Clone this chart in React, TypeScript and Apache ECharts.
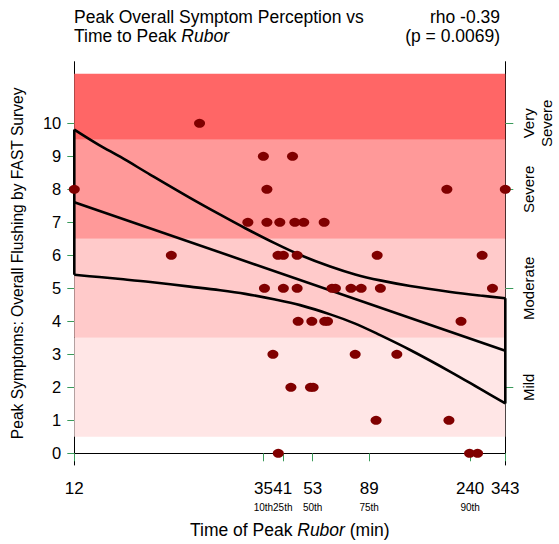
import React, { useEffect, useRef } from "react";
import * as echarts from "echarts";

// ---- data ----
const peakMinutes = [
  22,
  35, 44.5,
  12, 36, 190, 343,
  31, 36, 40, 45.4, 49, 58.7,
  18.5, 39.4, 41.2, 46.3, 96, 271,
  35.3, 41.2, 46.3, 63, 65, 75, 82.5, 99, 301,
  46.7, 52.6, 59, 60.5, 219,
  37.8, 78, 116,
  43.9, 52, 53.2,
  95, 194,
  39.5, 238.7, 258.8,
];
const peakScores = [
  10,
  9, 9,
  8, 8, 8, 8,
  7, 7, 7, 7, 7, 7,
  6, 6, 6, 6, 6, 6,
  5, 5, 5, 5, 5, 5, 5, 5, 5,
  4, 4, 4, 4, 4,
  3, 3, 3,
  2, 2, 2,
  1, 1,
  0, 0, 0,
];

const fitMinutes = [12, 343];
const fitValues = [7.61, 3.11];

const ciMinutes = [12, 13.1, 14.3, 16.5, 20.7, 25.3, 30.4, 38.5, 47.5, 62, 78, 98.8, 132.2, 197, 265.9, 343];
const ciUpper = [9.81, 9.34, 8.98, 8.44, 7.74, 7.23, 6.82, 6.36, 6.01, 5.66, 5.42, 5.24, 5.07, 4.89, 4.78, 4.7];
const ciLower = [5.41, 5.34, 5.28, 5.19, 5.05, 4.94, 4.83, 4.66, 4.49, 4.21, 3.93, 3.58, 3.13, 2.47, 1.95, 1.51];

const tickMinutes = [12, 35, 41, 53, 89, 240, 343];
const tickPercentiles = ["", "10th", "25th", "50th", "75th", "90th", ""];

const scoreTicks = [0, 1, 2, 3, 4, 5, 6, 7, 8, 9, 10];
const severityTicks = [2, 5, 8, 10];
const severityLabels = ["Mild", "Moderate", "Severe", "Very\nSevere"];

const bandEdges = [0.5, 3.5, 6.5, 9.5, 11.5];
const bandColors = ["#ffe6e6", "#ffcaca", "#ff9999", "#ff6666"];

const rhoText = "rho -0.39\n(p = 0.0069)";

// ---- helpers ----
const SHIFT = 8.3;
const T = (m: number) => Math.log10(m - SHIFT);
const FONT = "'Liberation Sans', Arial, sans-serif";
const GREEN = "#3a9a5a";
const Y_MIN = -0.355;
const Y_MAX = 11.867;

const nearestIndex = (arr: number[], v: number) => {
  let best = 0;
  let bd = Infinity;
  arr.forEach((a, i) => {
    const d = Math.abs(a - v);
    if (d < bd) {
      bd = d;
      best = i;
    }
  });
  return best;
};

export default function App() {
  const ref = useRef<HTMLDivElement>(null);

  useEffect(() => {
    if (!ref.current) return;
    const chart = echarts.init(ref.current, null, { renderer: "svg" });
    const tickT = tickMinutes.map(T);

    const scatterData = peakMinutes.map((m, i) => [T(m), peakScores[i]]);
    const upperData = ciMinutes.map((m, i) => [T(m), ciUpper[i]]);
    const lowerData = ciMinutes.map((m, i) => [T(m), ciLower[i]]);
    const fitData = fitMinutes.map((m, i) => [T(m), fitValues[i]]);
    const n = ciMinutes.length - 1;
    const leftEdge = [
      [T(ciMinutes[0]), ciLower[0]],
      [T(ciMinutes[0]), ciUpper[0]],
    ];
    const rightEdge = [
      [T(ciMinutes[n]), ciLower[n]],
      [T(ciMinutes[n]), ciUpper[n]],
    ];

    const lineStyle = { color: "#000", width: 2.6 };

    chart.setOption({
      animation: false,
      backgroundColor: "#fff",
      textStyle: { fontFamily: FONT },
      graphic: [
        {
          type: "text",
          x: 74,
          y: 7,
          style: {
            text: "Peak Overall Symptom Perception vs\nTime to Peak {i|Rubor}",
            fontFamily: FONT,
            fontSize: 17.5,
            lineHeight: 19,
            fill: "#000",
            align: "left",
            verticalAlign: "top",
            rich: {
              i: { fontStyle: "italic", fontFamily: FONT, fontSize: 17.5, lineHeight: 19, fill: "#000" },
            },
          },
        },
        {
          type: "text",
          x: 500,
          y: 7,
          style: {
            text: rhoText,
            fontFamily: FONT,
            fontSize: 17.5,
            lineHeight: 19,
            fill: "#000",
            align: "right",
            verticalAlign: "top",
          },
        },
      ],
      grid: { left: 74.3, right: 53.7, top: 61.7, bottom: 79, containLabel: false },
      xAxis: {
        type: "value",
        min: T(tickMinutes[0]),
        max: T(tickMinutes[tickMinutes.length - 1]),
        splitLine: { show: false },
        axisLine: { show: true, lineStyle: { color: "#000", width: 1 } },
        axisTick: { show: true, customValues: tickT, length: 8, lineStyle: { color: GREEN, width: 1 } },
        axisLabel: {
          customValues: tickT,
          margin: 12,
          color: "#000",
          formatter: (v: number) => {
            const i = nearestIndex(tickT, v);
            const p = tickPercentiles[i];
            return p ? `{n|${tickMinutes[i]}}\n{p|${p}}` : `{n|${tickMinutes[i]}}`;
          },
          rich: {
            n: { fontSize: 17, lineHeight: 22, fontFamily: FONT, color: "#000" },
            p: { fontSize: 10, lineHeight: 17, fontFamily: FONT, color: "#000" },
          },
        },
        name: "Time of Peak {i|Rubor} (min)",
        nameLocation: "middle",
        nameGap: 56,
        nameTextStyle: {
          fontSize: 17.5,
          fontFamily: FONT,
          color: "#000",
          rich: { i: { fontStyle: "italic", fontSize: 17.5, fontFamily: FONT, color: "#000" } },
        },
      },
      yAxis: [
        {
          type: "value",
          position: "left",
          min: Y_MIN,
          max: Y_MAX,
          splitLine: { show: false },
          axisLine: { show: true, lineStyle: { color: "#000", width: 1 } },
          axisTick: { show: true, customValues: scoreTicks, length: 7, lineStyle: { color: GREEN, width: 1 } },
          axisLabel: {
            customValues: scoreTicks,
            margin: 13,
            fontSize: 16.5,
            fontFamily: FONT,
            color: "#000",
          },
          name: "Peak Symptoms: Overall Flushing by FAST Survey",
          nameLocation: "middle",
          nameGap: 49,
          nameTextStyle: { fontSize: 15.6, fontFamily: FONT, color: "#000" },
        },
        {
          type: "value",
          position: "right",
          min: Y_MIN,
          max: Y_MAX,
          splitLine: { show: false },
          axisLine: { show: true, lineStyle: { color: "#000", width: 1 } },
          axisTick: { show: true, customValues: severityTicks, length: 8, lineStyle: { color: GREEN, width: 1 } },
          axisLabel: {
            customValues: severityTicks,
            rotate: 90,
            margin: 14,
            fontSize: 15,
            lineHeight: 18,
            fontFamily: FONT,
            color: "#000",
            formatter: (v: number) => severityLabels[nearestIndex(severityTicks, v)],
          },
        },
      ],
      series: [
        {
          type: "line",
          data: [],
          silent: true,
          markArea: {
            silent: true,
            data: bandColors.map((c, i) => [
              { yAxis: bandEdges[i], itemStyle: { color: c, opacity: 1 } },
              { yAxis: bandEdges[i + 1] },
            ]),
          },
          z: 1,
        },
        {
          type: "line",
          data: upperData,
          smooth: 0.35,
          showSymbol: false,
          lineStyle,
          silent: true,
          z: 3,
        },
        {
          type: "line",
          data: lowerData,
          smooth: 0.35,
          showSymbol: false,
          lineStyle,
          silent: true,
          z: 3,
        },
        { type: "line", data: fitData, showSymbol: false, lineStyle, silent: true, z: 3 },
        { type: "line", data: leftEdge, showSymbol: false, lineStyle, silent: true, z: 3 },
        { type: "line", data: rightEdge, showSymbol: false, lineStyle, silent: true, z: 3 },
        {
          type: "scatter",
          data: scatterData,
          symbol: "circle",
          symbolSize: [11, 9],
          itemStyle: { color: "#800000", opacity: 1 },
          z: 4,
        },
      ],
    });
    return () => chart.dispose();
  }, []);

  return (
    <div
      ref={ref}
      style={{ position: "fixed", left: 0, top: 0, width: 559, height: 544, background: "#fff" }}
    />
  );
}
